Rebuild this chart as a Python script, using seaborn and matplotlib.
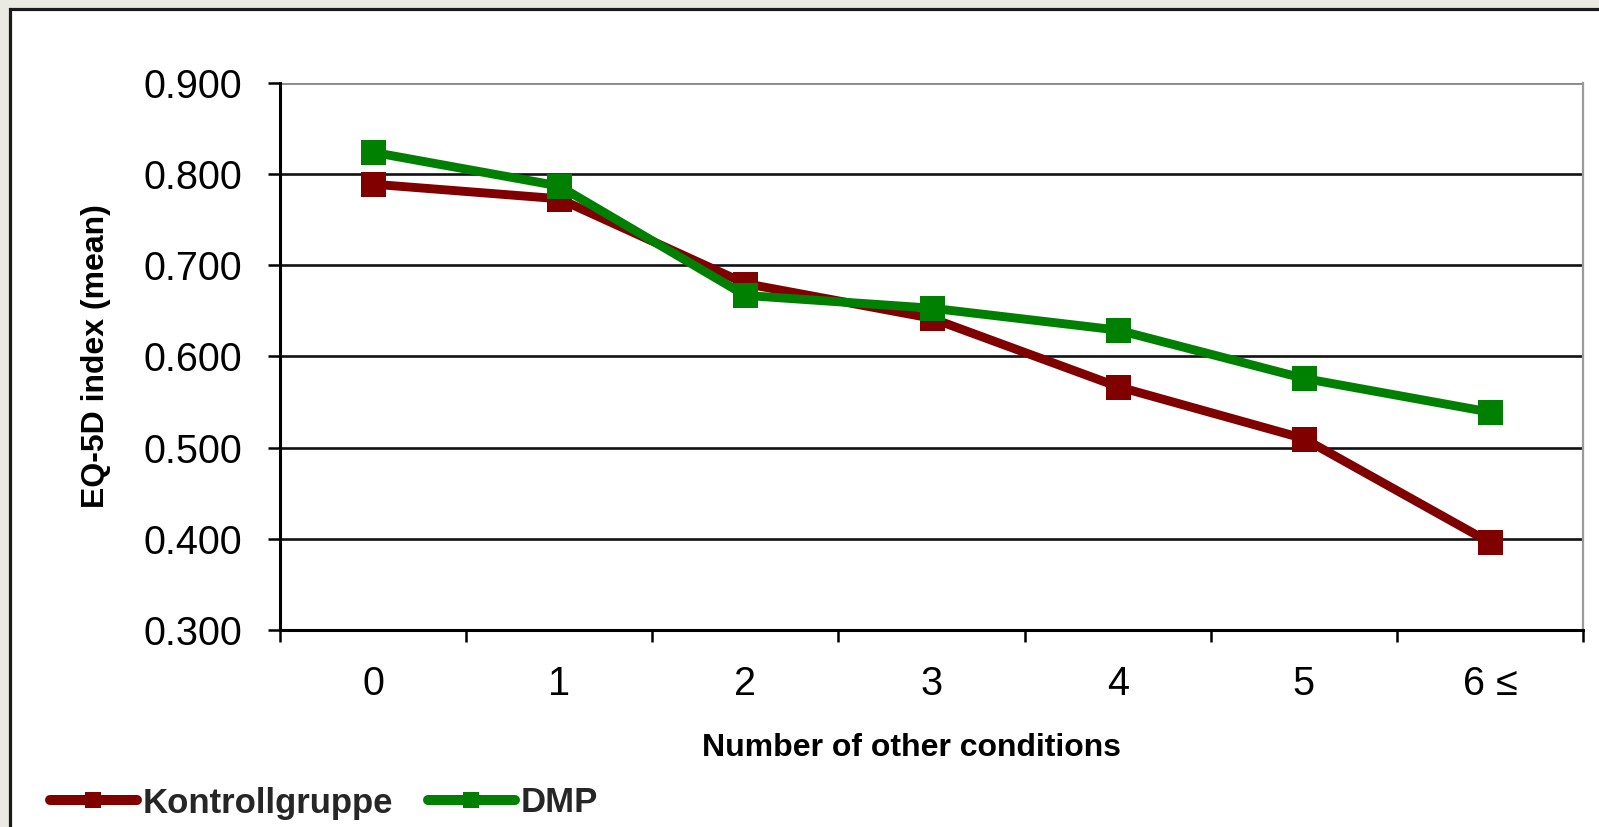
import numpy as np
import pandas as pd
import matplotlib
matplotlib.use("Agg")
import matplotlib.pyplot as plt
import seaborn as sns
from matplotlib.patches import Rectangle

categories = ["0", "1", "2", "3", "4", "5", "6 \u2264"]
kontroll = [0.789, 0.773, 0.680, 0.642, 0.567, 0.510, 0.396]
dmp = [0.824, 0.787, 0.667, 0.653, 0.629, 0.576, 0.539]
series_names = ["Kontrollgruppe", "DMP"]
series_colors = ["#800000", "#008000"]
y_ticks = [0.3, 0.4, 0.5, 0.6, 0.7, 0.8, 0.9]

df = pd.DataFrame({
    "cond": categories * 2,
    "val": kontroll + dmp,
    "group": [series_names[0]] * len(categories) + [series_names[1]] * len(categories),
})

sns.set_theme(style="white")
plt.rcParams["font.family"] = ["Liberation Sans", "DejaVu Sans"]
plt.rcParams.update({
    "ytick.major.pad": 18.5,
    "xtick.major.pad": 25.0,
    "ytick.major.size": 8.6,
    "ytick.major.width": 1.8,
    "xtick.minor.size": 8.6,
    "xtick.minor.width": 1.8,
    "ytick.direction": "out",
    "xtick.direction": "out",
    "ytick.left": True,
    "xtick.bottom": True,
    "ytick.labelsize": 28.5,
    "xtick.labelsize": 28.5,
    "ytick.color": "black",
    "xtick.color": "black",
})

W, H = 1599, 827
fig = plt.figure(figsize=(W / 100, H / 100), dpi=100)
fig.patch.set_facecolor("#EAEAE3")
# white chart frame
fig.add_artist(Rectangle((9.5 / W, -0.02), 1.05, 1 - 8.5 / H + 0.02,
                         transform=fig.transFigure, facecolor="white",
                         edgecolor="#1a1a1a", linewidth=2.3, zorder=0))

ax = fig.add_axes([280 / W, 1 - 630 / H, (1583 - 280) / W, (630 - 83) / H])
ax.set_facecolor("white")

sns.lineplot(data=df, x="cond", y="val", hue="group", hue_order=series_names,
             palette=series_colors, marker="s", markersize=18, markeredgewidth=0,
             linewidth=6.4, sort=False, ax=ax, zorder=3)

ax.set_xlim(-0.5, len(categories) - 0.5)
ax.set_ylim(y_ticks[0], y_ticks[-1])
ax.set_yticks(y_ticks)
ax.set_yticklabels([f"{t:.3f}" for t in y_ticks])
ax.set_xticks(range(len(categories)))
ax.set_xticklabels(categories)
ax.set_xticks(np.arange(-0.5, len(categories)), minor=True)

ax.xaxis.set_tick_params(which="major", length=0, pad=25.0, labelsize=28.5)
ax.xaxis.set_tick_params(which="minor", length=8.6, width=1.8, bottom=True)
ax.yaxis.set_tick_params(which="major", length=8.6, width=1.8, pad=18.5,
                         labelsize=28.5, left=True)

ax.grid(axis="y", color="#111111", linewidth=1.9, zorder=1)
ax.set_axisbelow(True)
gl = ax.get_ygridlines()
gl[-1].set_color("#8a8a8a")
gl[-1].set_linewidth(2.8)

for s in ["left", "bottom"]:
    ax.spines[s].set_color("black")
    ax.spines[s].set_linewidth(2.2)
ax.spines["right"].set_color("#9a9a9a")
ax.spines["right"].set_linewidth(1.6)
ax.spines["top"].set_visible(False)

ax.set_xlabel("Number of other conditions", fontsize=23, fontweight="bold",
              color="black", va="center")
ax.set_ylabel("EQ-5D index (mean)", fontsize=23, fontweight="bold",
              color="black", va="center")
ax.xaxis.set_label_coords((912 - 280) / (1583 - 280), (630 - 748) / (630 - 83))
ax.yaxis.set_label_coords((96 - 280) / (1583 - 280), 0.5)

handles, labels = ax.get_legend_handles_labels()
if ax.get_legend() is not None:
    ax.get_legend().remove()
leg = fig.legend(handles, labels, loc="center left",
                 bbox_to_anchor=(50 / W, 1 - 803 / H), ncol=2, frameon=False,
                 prop={"weight": "bold", "size": 25},
                 handlelength=2.5, handletextpad=0.17, columnspacing=1.0,
                 borderpad=0, borderaxespad=0)
for h in leg.legend_handles:
    h.set_linewidth(7.2)
    h.set_markersize(11)
    h.set_solid_capstyle("round")

fig.savefig("out.png", dpi=100, facecolor=fig.get_facecolor())
